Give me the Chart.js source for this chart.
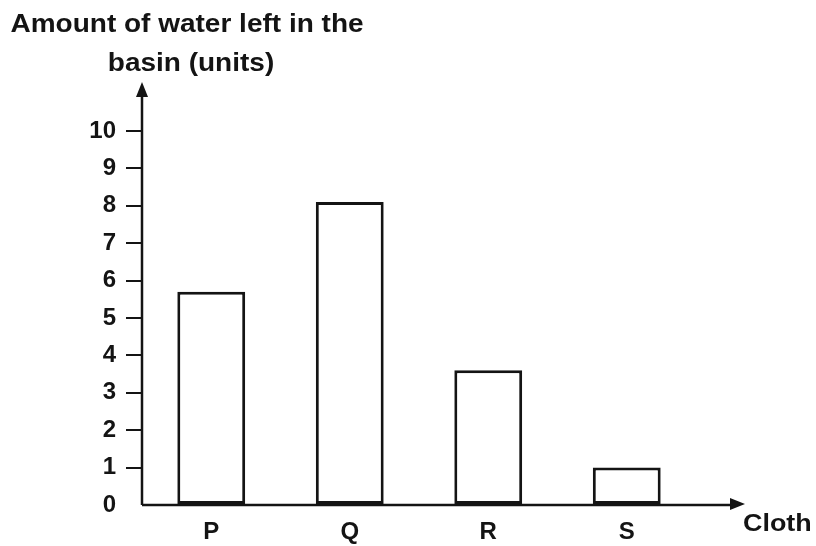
<!DOCTYPE html>
<html lang="en">
<head>
    <meta charset="UTF-8">
    <title>Amount of water left in the basin</title>
    <style>
        html, body {
            margin: 0;
            padding: 0;
            background: #fff;
        }
        #wrap {
            width: 816px;
            height: 546px;
        }
    </style>
</head>
<body>
<div id="wrap">
    <canvas id="myChart" width="816" height="546"></canvas>
</div>

<script src="https://cdn.jsdelivr.net/npm/chart.js@4/dist/chart.umd.min.js"></script>
<script>
// data
const cloths = ['P', 'Q', 'R', 'S'];
const waterLeft = [5.7, 8.1, 3.6, 1.0];
const yTicks = [0, 1, 2, 3, 4, 5, 6, 7, 8, 9, 10];
const titleLines = ['Amount of water left in the', 'basin (units)'];
const xAxisName = 'Cloth';

const ink = '#141414';
const fontFamily = "'Liberation Sans', Arial, sans-serif";

// draws both axes with arrow heads plus the axis names
const axesPlugin = {
    id: 'axesWithArrows',
    afterDatasetsDraw(chart) {
        const ctx = chart.ctx;
        const area = chart.chartArea;
        const x0 = area.left;
        const y0 = chart.scales.y.getPixelForValue(0);
        const xEnd = 745;

        ctx.save();
        ctx.strokeStyle = ink;
        ctx.fillStyle = ink;
        ctx.lineWidth = 2.5;

        // y axis
        ctx.beginPath();
        ctx.moveTo(x0, y0);
        ctx.lineTo(x0, area.top - 40);
        ctx.stroke();
        ctx.beginPath();
        ctx.moveTo(x0, area.top - 49);
        ctx.lineTo(x0 - 6, area.top - 34);
        ctx.lineTo(x0 + 6, area.top - 34);
        ctx.closePath();
        ctx.fill();

        // x axis
        ctx.beginPath();
        ctx.moveTo(x0, y0);
        ctx.lineTo(xEnd - 11, y0);
        ctx.stroke();
        ctx.beginPath();
        ctx.moveTo(xEnd, y0 - 1);
        ctx.lineTo(xEnd - 15, y0 - 7);
        ctx.lineTo(xEnd - 15, y0 + 5);
        ctx.closePath();
        ctx.fill();

        // axis names (scan is a bit stretched sideways)
        ctx.font = 'bold 25px ' + fontFamily;
        ctx.textBaseline = 'alphabetic';
        ctx.textAlign = 'center';
        ctx.save();
        ctx.scale(1.12, 1);
        ctx.fillText(titleLines[0], 187 / 1.12, 32);
        ctx.fillText(titleLines[1], 191 / 1.12, 71);
        ctx.textAlign = 'left';
        ctx.font = 'bold 24px ' + fontFamily;
        ctx.fillText(xAxisName, (xEnd - 2) / 1.12, y0 + 26);
        ctx.restore();

        ctx.restore();
    }
};

const ctx = document.getElementById('myChart').getContext('2d');
new Chart(ctx, {
    type: 'bar',
    data: {
        labels: cloths,
        datasets: [{
            label: 'Amount of water left',
            data: waterLeft,
            backgroundColor: '#ffffff',
            borderColor: ink,
            borderWidth: 3,
            borderSkipped: false,
            barPercentage: 0.49,
            categoryPercentage: 1
        }]
    },
    options: {
        responsive: false,
        animation: false,
        layout: {
            padding: { top: 131, right: 120, bottom: 0, left: 0 }
        },
        plugins: {
            legend: { display: false },
            tooltip: { enabled: false }
        },
        scales: {
            x: {
                border: { display: false },
                grid: { display: false, drawTicks: false },
                ticks: {
                    color: ink,
                    padding: 13,
                    font: { family: fontFamily, size: 24, weight: 'bold' }
                },
                afterFit(scale) {
                    scale.height = 41;
                }
            },
            y: {
                min: 0,
                max: 10,
                border: { display: false },
                afterBuildTicks(scale) {
                    scale.ticks = yTicks.map(v => ({ value: v }));
                },
                grid: {
                    drawOnChartArea: false,
                    tickLength: 16,
                    lineWidth: 2,
                    color: c => (c.tick && c.tick.value === 0) ? 'rgba(0,0,0,0)' : ink
                },
                ticks: {
                    color: ink,
                    padding: 10,
                    font: { family: fontFamily, size: 24, weight: 'bold' }
                },
                afterFit(scale) {
                    scale.width = 142;
                }
            }
        }
    },
    plugins: [axesPlugin]
});
</script>
</body>
</html>
